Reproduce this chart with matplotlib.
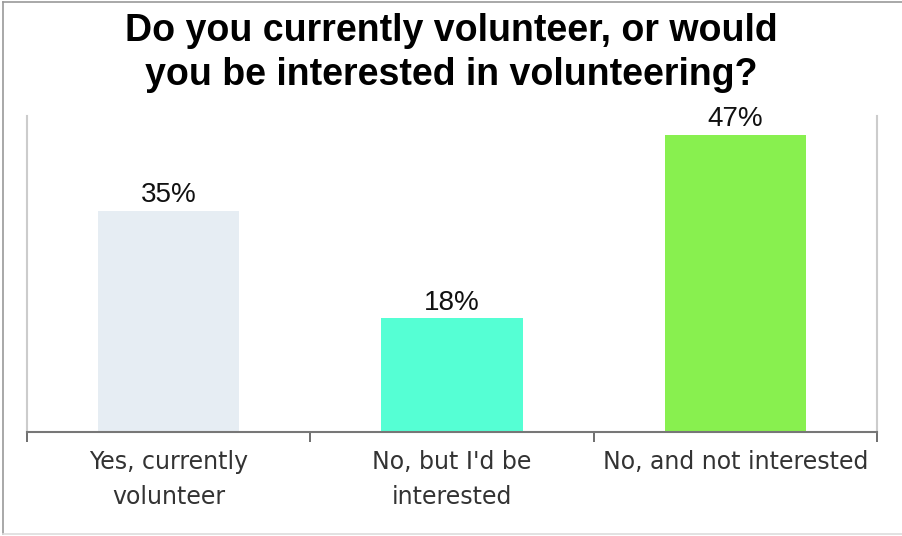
import matplotlib.pyplot as plt
from matplotlib.lines import Line2D

categories = ["Yes, currently\nvolunteer", "No, but I'd be\ninterested", "No, and not interested"]
percent = [35, 18, 47]
bar_colors = ["#e6edf3", "#55ffd4", "#88f04f"]

fig = plt.figure(figsize=(9.02, 5.36), dpi=100)
ax = fig.add_axes([0.0299, 0.194, 0.9424, 0.5896])

x = range(len(categories))
bars = ax.bar(x, percent, width=0.5, color=bar_colors, zorder=2)

for b, v in zip(bars, percent):
    ax.text(b.get_x() + b.get_width() / 2, v + 0.4, f"{v}%", ha="center", va="bottom",
            fontsize=20, family="Liberation Sans", color="#111111")

ax.set_xlim(-0.5, len(categories) - 0.5)
ax.set_ylim(0, 50)
ax.set_yticks([])

# ticks sit between the categories, labels sit under the bars
ax.set_xticks([-0.5, 0.5, 1.5, 2.5])
ax.set_xticklabels([])
ax.set_xticks(list(x), minor=True)
ax.set_xticklabels(categories, minor=True, fontsize=17, family="DejaVu Sans",
                   color="#333333", linespacing=1.6)
ax.tick_params(axis="x", which="major", length=7, width=1.2, color="#555555")
ax.tick_params(axis="x", which="minor", length=0, pad=13)

for side in ["left", "right"]:
    ax.spines[side].set_color("#cccccc")
    ax.spines[side].set_linewidth(1.5)
ax.spines["top"].set_visible(False)
ax.spines["bottom"].set_color("#777777")
ax.spines["bottom"].set_linewidth(1.5)

fig.suptitle("Do you currently volunteer, or would\nyou be interested in volunteering?",
             x=0.5, y=0.975, fontsize=27, fontweight="bold", family="Liberation Sans",
             linespacing=1.27)

# thin frame around the figure
fig.add_artist(Line2D([0.003, 0.003], [0.004, 0.996], color="#999999", lw=1.2))
fig.add_artist(Line2D([0.003, 1.0], [0.996, 0.996], color="#999999", lw=1.2))
fig.add_artist(Line2D([0.003, 1.0], [0.004, 0.004], color="#dddddd", lw=1.2))

fig.savefig("out.png", dpi=100)
